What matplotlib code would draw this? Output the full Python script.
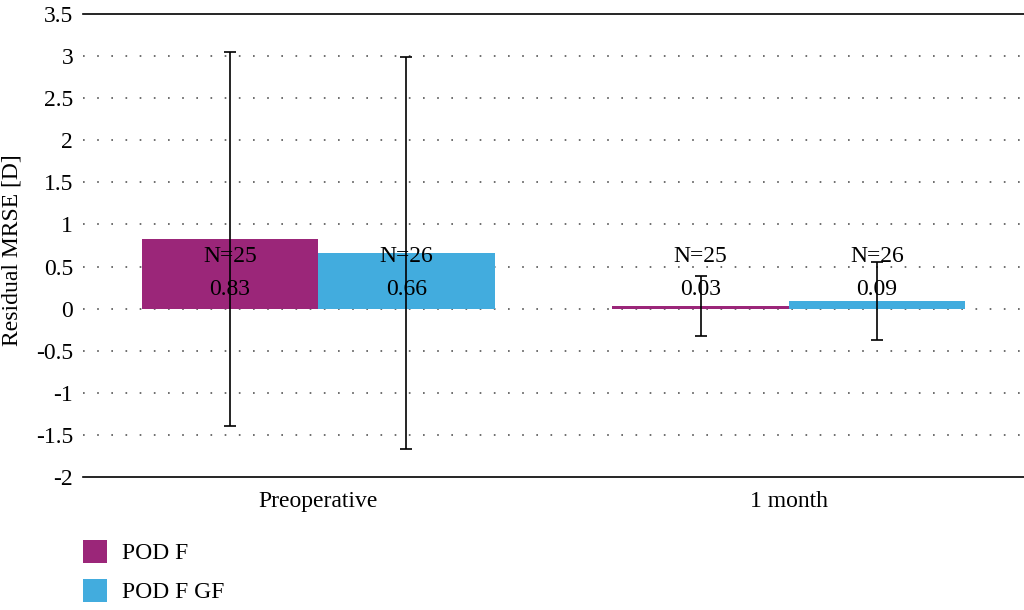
import numpy as np
import matplotlib.pyplot as plt
from matplotlib.patches import Patch

plt.rcParams['font.family'] = ['Liberation Serif', 'DejaVu Serif']

groups = ["Preoperative", "1 month"]
series = ["POD F", "POD F GF"]
means = {"POD F": [0.83, 0.03], "POD F GF": [0.66, 0.09]}
sds = {"POD F": [2.22, 0.36], "POD F GF": [2.33, 0.46]}
counts = {"POD F": [25, 25], "POD F GF": [26, 26]}
colors = {"POD F": "#9B2679", "POD F GF": "#42ACDE"}

fig = plt.figure(figsize=(10.24, 6.1), dpi=100)
ax = fig.add_axes([0.081, 0.218, 0.919, 0.759])

x = np.arange(len(groups))
w = 0.375
for i, s in enumerate(series):
    pos = x + (i - 0.5) * w
    ax.bar(pos, means[s], width=w, color=colors[s], zorder=2)
    ax.errorbar(pos, means[s], yerr=sds[s], fmt="none", ecolor="black",
                elinewidth=1.2, capsize=4, capthick=1.2, zorder=4)
    for p, m, n in zip(pos, means[s], counts[s]):
        ax.text(p, 0.62, f"N={n}", ha="center", va="center", fontsize=17, zorder=5)
        ax.text(p, 0.23, f"{m:.2f}", ha="center", va="center", fontsize=17, zorder=5)

ax.set_xlim(-0.5, 1.5)
ax.set_ylim(-2, 3.5)
ax.set_yticks(np.arange(-2, 3.51, 0.5))
ax.set_yticklabels([f"{v:g}" for v in np.arange(-2, 3.51, 0.5)])
ax.set_xticks(x)
ax.set_xticklabels(groups)
ax.tick_params(length=0, labelsize=17, pad=7)
ax.tick_params(axis="x", pad=10)

for v in np.arange(-1.5, 3.01, 0.5):
    ax.axhline(v, color="#555555", linewidth=1.2, linestyle=(0, (1, 7.5)), zorder=1)

for side in ["left", "right"]:
    ax.spines[side].set_visible(False)
ax.spines["top"].set_linewidth(1.2)
ax.spines["bottom"].set_linewidth(1.2)

ax.set_ylabel("Residual MRSE [D]", fontsize=17)
ax.yaxis.set_label_coords(-0.064, 0.49)

handles = [Patch(facecolor=colors[s], label=s) for s in series]
fig.legend(handles=handles, loc="upper left", bbox_to_anchor=(0.081, 0.115),
           frameon=False, fontsize=17, handlelength=1.0, handleheight=1.1,
           labelspacing=0.62, handletextpad=0.65, borderaxespad=0, borderpad=0)

fig.savefig("out.png", dpi=100)
